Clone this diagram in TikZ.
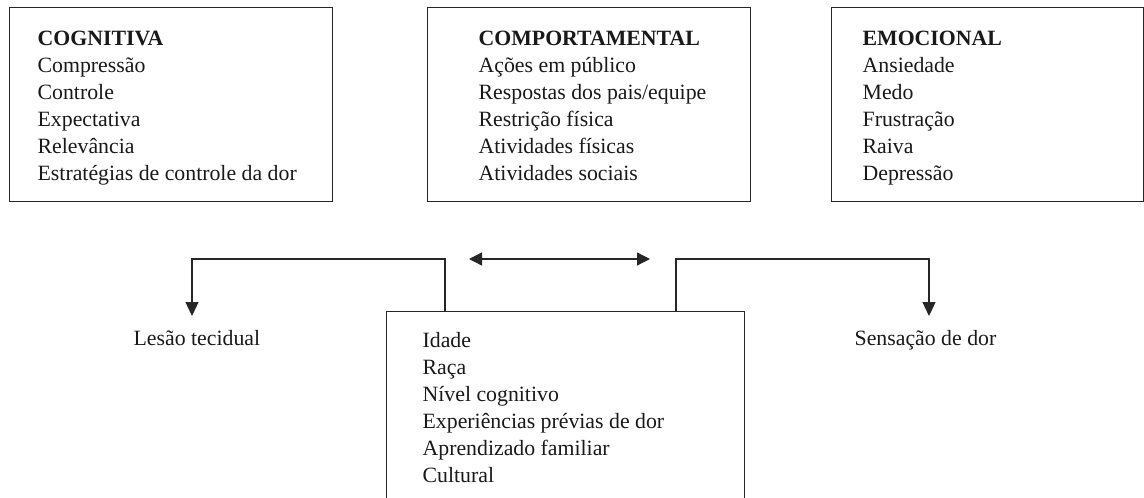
\documentclass[tikz,border=0pt]{standalone}
\usepackage{fontspec}
\setmainfont{Liberation Serif}
\usetikzlibrary{arrows.meta}
\begin{document}
\begin{tikzpicture}[x=1pt,y=-1pt,
  line width=1.3pt,
  frame/.style={draw=black!85, inner sep=0pt, anchor=north west},
  txt/.style={inner sep=0pt, anchor=base west, font=\fontsize{21.8}{27}\selectfont, text=black!90},
  arr/.style={draw=black!85, -{Triangle[length=14pt,width=13pt]}},
  darr/.style={draw=black!85, {Triangle[length=13pt,width=13pt]}-{Triangle[length=13pt,width=13pt]}}]
\useasboundingbox (0,0) rectangle (1144,498);
% boxes
\node[frame, minimum width=323pt, minimum height=194pt] (cog) at (9,7) {};
\node[frame, minimum width=323pt, minimum height=194pt] (comp) at (427,7) {};
\node[frame, minimum width=312pt, minimum height=194pt] (emo) at (831,7) {};
\node[frame, minimum width=358pt, minimum height=230pt] (bot) at (386,311) {};
% texts
\node[txt] (cogt) at (37,45) {\begin{tabular}[t]{@{}l@{}}\textbf{COGNITIVA}\\Compressão\\Controle\\Expectativa\\Relevância\\Estratégias de controle da dor\end{tabular}};
\node[txt] (compt) at (478,45) {\begin{tabular}[t]{@{}l@{}}\textbf{COMPORTAMENTAL}\\Ações em público\\Respostas dos pais/equipe\\Restrição física\\Atividades físicas\\Atividades sociais\end{tabular}};
\node[txt] (emot) at (862,45) {\begin{tabular}[t]{@{}l@{}}\textbf{EMOCIONAL}\\Ansiedade\\Medo\\Frustração\\Raiva\\Depressão\end{tabular}};
\node[txt] (bott) at (422,347) {\begin{tabular}[t]{@{}l@{}}Idade\\Raça\\Nível cognitivo\\Experiências prévias de dor\\Aprendizado familiar\\Cultural\end{tabular}};
\node[txt] (lesao) at (133,345) {Lesão tecidual};
\node[txt] (sens) at (854,345) {Sensação de dor};
% connectors
\coordinate (lx) at (445,259);
\coordinate (rx) at (676,259);
\coordinate (ltip) at (192,316);
\coordinate (rtip) at (929,316);
\coordinate (da) at (469,259);
\coordinate (db) at (650,259);
\draw[arr] (bot.north -| lx) -- (lx) -| (ltip);
\draw[arr] (bot.north -| rx) -- (rx) -| (rtip);
\draw[darr] (da) -- (db);
\end{tikzpicture}
\end{document}
